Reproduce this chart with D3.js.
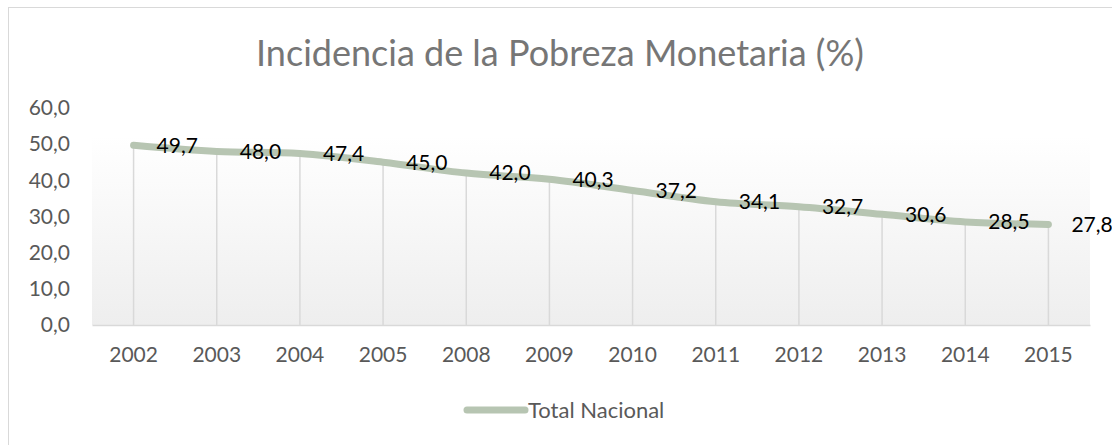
<!DOCTYPE html>
<html>
<head>
<meta charset="utf-8">
<script src="https://cdn.jsdelivr.net/npm/d3@7"></script>
<style>
  body { margin: 0; background: #fff; }
  svg text { font-family: Lato, "Open Sans", sans-serif; }
</style>
</head>
<body>
<div id="container"></div>
<script>
const years = ['2002', '2003', '2004', '2005', '2008', '2009', '2010', '2011', '2012', '2013', '2014', '2015'];
const pobreza = [49.7, 48.0, 47.4, 45.0, 42.0, 40.3, 37.2, 34.1, 32.7, 30.6, 28.5, 27.8];
const yTicks = [0, 10, 20, 30, 40, 50, 60];
const seriesName = 'Total Nacional';
const chartTitle = 'Incidencia de la Pobreza Monetaria (%)';

const width = 1112;
const height = 445;
const plot = { left: 92, right: 1090, top: 108, bottom: 325 };
const lineColor = '#b7c5b2';
const fmt = v => d3.format('.1f')(v).replace('.', ',');

const svg = d3.select('#container')
  .append('svg')
  .attr('width', width)
  .attr('height', height);

// chart frame (only top/left show in the picture)
svg.append('rect')
  .attr('x', 8.5).attr('y', 7.5)
  .attr('width', width).attr('height', height)
  .attr('fill', '#fff')
  .attr('stroke', '#d9d9d9');

const defs = svg.append('defs');
const grad = defs.append('linearGradient')
  .attr('id', 'plotFill')
  .attr('x1', 0).attr('y1', 0).attr('x2', 0).attr('y2', 1);
grad.append('stop').attr('offset', '0%').attr('stop-color', '#ffffff');
grad.append('stop').attr('offset', '100%').attr('stop-color', '#eeeeee');

const x = d3.scaleBand()
  .domain(years)
  .range([plot.left, plot.right]);

const y = d3.scaleLinear()
  .domain([0, 60])
  .range([plot.bottom, plot.top]);

svg.append('rect')
  .attr('x', plot.left).attr('y', y(50) - 8)
  .attr('width', plot.right - plot.left)
  .attr('height', plot.bottom - y(50) + 8)
  .attr('fill', 'url(#plotFill)');

svg.append('text')
  .attr('x', width / 2 + 4)
  .attr('y', 66)
  .attr('text-anchor', 'middle')
  .attr('font-size', '36px')
  .attr('fill', '#767676')
  .text(chartTitle);

// y axis labels
const yAxis = d3.axisLeft(y).tickValues(yTicks).tickFormat(fmt).tickSize(0).tickPadding(0);
svg.append('g')
  .attr('transform', `translate(70,0)`)
  .call(yAxis)
  .call(g => g.select('.domain').remove())
  .call(g => g.selectAll('text')
    .attr('font-size', '21px')
    .attr('fill', '#595959')
    .attr('font-family', 'Lato, sans-serif'));

// drop lines
const cx = d => x(d) + x.bandwidth() / 2;
svg.append('g')
  .selectAll('line')
  .data(years)
  .enter()
  .append('line')
  .attr('x1', d => cx(d)).attr('x2', d => cx(d))
  .attr('y1', (d, i) => y(pobreza[i]))
  .attr('y2', plot.bottom)
  .attr('stroke', '#d9d9d9')
  .attr('stroke-width', 1.5);

// x axis
const xAxis = d3.axisBottom(x).tickSize(0).tickPadding(22);
svg.append('g')
  .attr('transform', `translate(0,${plot.bottom})`)
  .call(xAxis)
  .call(g => g.select('.domain').attr('stroke', '#d9d9d9').attr('stroke-width', 1.5))
  .call(g => g.selectAll('text')
    .attr('font-size', '21px')
    .attr('fill', '#595959')
    .attr('font-family', 'Lato, sans-serif'));

const line = d3.line()
  .x((d, i) => cx(years[i]))
  .y(d => y(d))
  .curve(d3.curveCatmullRom.alpha(0.5));

svg.append('path')
  .datum(pobreza)
  .attr('d', line)
  .attr('fill', 'none')
  .attr('stroke', lineColor)
  .attr('stroke-width', 7)
  .attr('stroke-linecap', 'round')
  .attr('stroke-linejoin', 'round');

svg.append('g')
  .selectAll('text')
  .data(pobreza)
  .enter()
  .append('text')
  .attr('x', (d, i) => cx(years[i]) + 23)
  .attr('y', d => y(d))
  .attr('dy', '0.35em')
  .attr('font-size', '21px')
  .attr('fill', '#000')
  .text(d => fmt(d));

// legend
const legend = svg.append('g').attr('transform', 'translate(467,410)');
legend.append('line')
  .attr('x1', 0).attr('x2', 58)
  .attr('stroke', lineColor)
  .attr('stroke-width', 7)
  .attr('stroke-linecap', 'round');
legend.append('text')
  .attr('x', 61)
  .attr('dy', '0.35em')
  .attr('font-size', '22px')
  .attr('fill', '#595959')
  .text(seriesName);
</script>
</body>
</html>
